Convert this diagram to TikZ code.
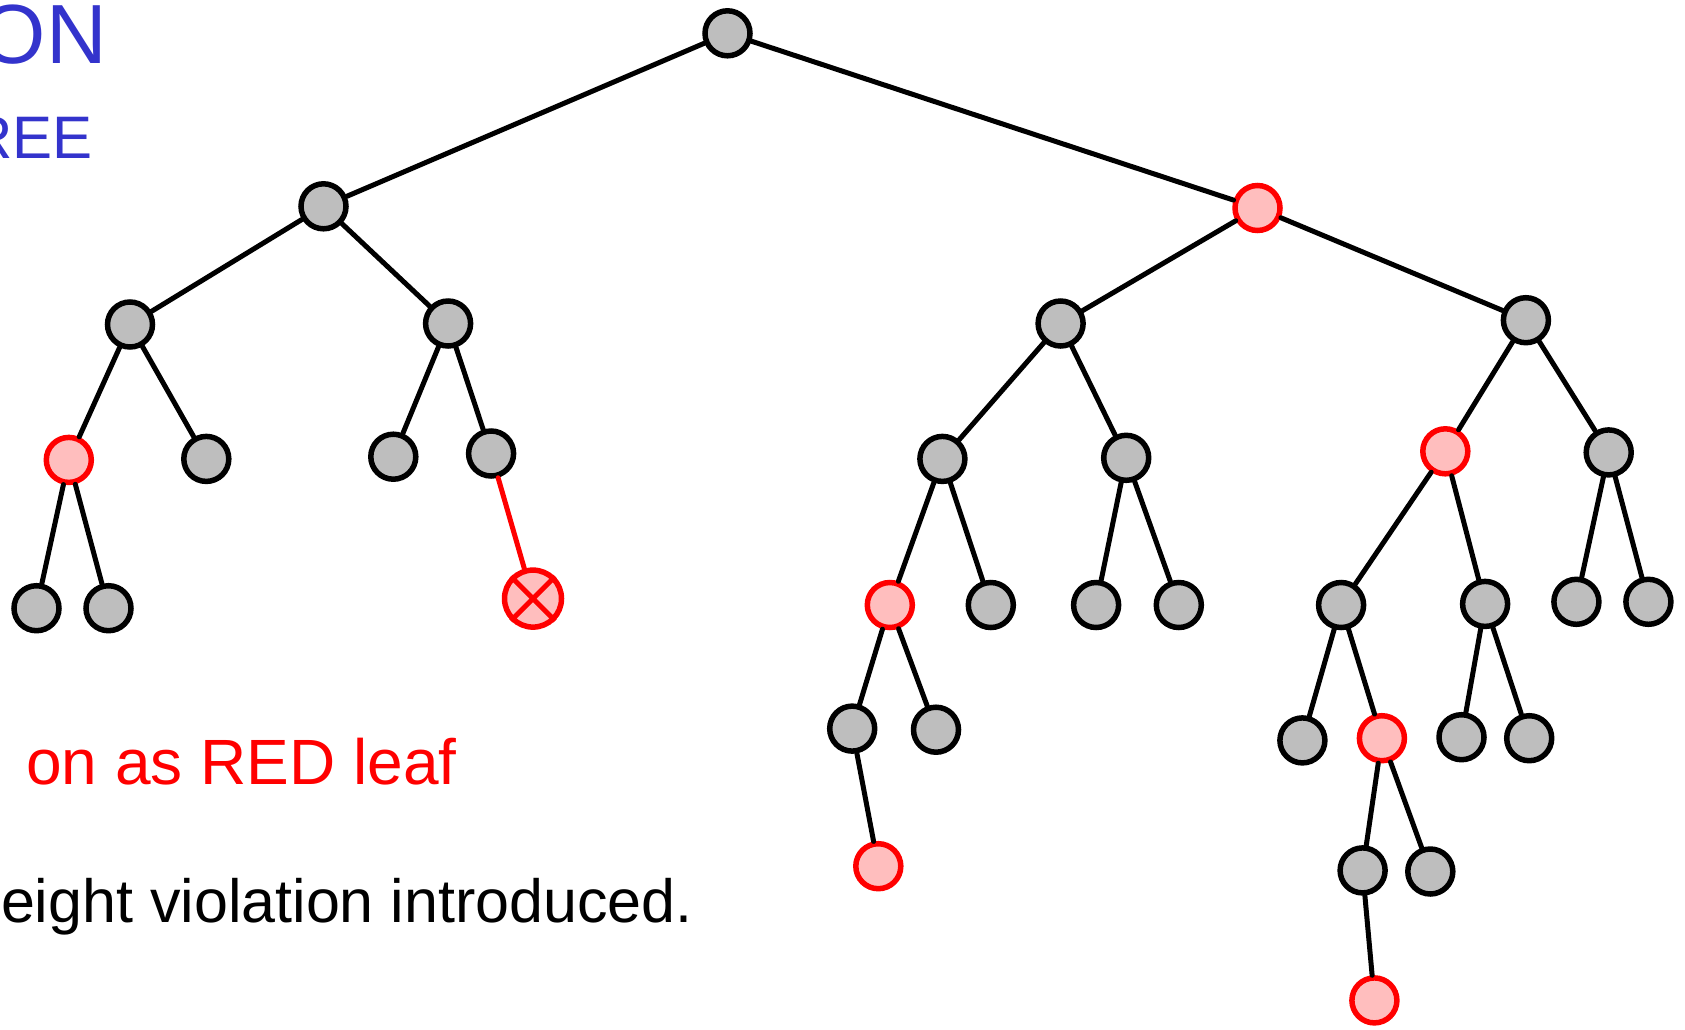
\documentclass[tikz,border=0pt]{standalone}
\usepackage{fontspec}
\setmainfont{Liberation Sans}
\definecolor{nodegray}{RGB}{190,190,190}
\definecolor{nodepink}{RGB}{255,190,190}
\definecolor{titleblue}{RGB}{51,51,204}
\begin{document}
\begin{tikzpicture}[x=1pt,y=-1pt,
  tnode/.style={circle,draw=black,fill=nodegray,line width=5.5pt,minimum size=45pt,inner sep=0pt},
  rnode/.style={tnode,draw=red,fill=nodepink},
  xnode/.style={rnode,minimum size=57pt},
  edge/.style={line width=5pt,black,line cap=round},
  redge/.style={edge,red},
  caption/.style={inner sep=0pt,anchor=base east}]
\useasboundingbox (0,0) rectangle (1685,1029);
\clip (0,0) rectangle (1685,1029);

% headings, partly cut off at the left margin
\node[caption,text=titleblue,font=\fontsize{84}{90}\selectfont] (h1) at (107,63) {ON};
\node[caption,text=titleblue,font=\fontsize{60}{66}\selectfont] (h2) at (93,158) {REE};
\node[caption,text=red,font=\fontsize{64}{70}\selectfont] (t1) at (457,784) {on as RED leaf};
\node[caption,text=black,font=\fontsize{61}{66}\selectfont] (t2) at (693,922) {eight violation introduced.};

% left subtree
\node[tnode] (r)    at (727.5,33.3) {};
\node[tnode] (a)    at (323.5,206.3) {};
\node[tnode] (aa)   at (130.0,324.5) {};
\node[tnode] (ab)   at (448.1,323.5) {};
\node[rnode] (aaa)  at (68.8,459.9) {};
\node[tnode] (aab)  at (206.3,458.9) {};
\node[tnode] (aba)  at (393.3,456.7) {};
\node[tnode] (abb)  at (491.1,453.5) {};
\node[tnode] (aaaa) at (36.5,608.2) {};
\node[tnode] (aaab) at (108.5,608.2) {};
\node[xnode] (new)  at (533.0,598.6) {};

% right subtree
\node[rnode] (b)     at (1257.5,208.0) {};
\node[tnode] (ba)    at (1060.6,323.5) {};
\node[tnode] (bb)    at (1525.9,320.2) {};
\node[tnode] (baa)   at (942.4,458.9) {};
\node[tnode] (bab)   at (1126.2,457.8) {};
\node[rnode] (baaa)  at (889.8,605.0) {};
\node[tnode] (baab)  at (990.8,605.0) {};
\node[tnode] (baba)  at (1096.1,605.0) {};
\node[tnode] (babb)  at (1178.8,605.0) {};
\node[tnode] (baaaa) at (852.2,728.6) {};
\node[tnode] (baaab) at (936.0,729.7) {};
\node[rnode] (baaaaa) at (878.3,866.2) {};
\node[rnode] (bba)   at (1445.3,451.3) {};
\node[tnode] (bbb)   at (1608.7,452.4) {};
\node[tnode] (bbaa)  at (1341.1,605.0) {};
\node[tnode] (bbab)  at (1485.1,603.9) {};
\node[tnode] (bbba)  at (1576.4,601.8) {};
\node[tnode] (bbbb)  at (1648.4,601.8) {};
\node[tnode] (bbaaa) at (1302.4,740.4) {};
\node[rnode] (bbaab) at (1381.9,738.2) {};
\node[tnode] (bbaba) at (1461.5,737.2) {};
\node[tnode] (bbabb) at (1529.2,738.2) {};
\node[tnode] (bbaaba) at (1362.6,870.4) {};
\node[tnode] (bbaabb) at (1430.3,871.5) {};
\node[rnode] (bbaabaa) at (1374.4,1000.4) {};

% edges
\draw[edge] (r) -- (a);  \draw[edge] (r) -- (b);
\draw[edge] (a) -- (aa); \draw[edge] (a) -- (ab);
\draw[edge] (aa) -- (aaa); \draw[edge] (aa) -- (aab);
\draw[edge] (ab) -- (aba); \draw[edge] (ab) -- (abb);
\draw[edge] (aaa) -- (aaaa); \draw[edge] (aaa) -- (aaab);
\draw[redge] (abb) -- (new);
\draw[edge] (b) -- (ba); \draw[edge] (b) -- (bb);
\draw[edge] (ba) -- (baa); \draw[edge] (ba) -- (bab);
\draw[edge] (baa) -- (baaa); \draw[edge] (baa) -- (baab);
\draw[edge] (bab) -- (baba); \draw[edge] (bab) -- (babb);
\draw[edge] (baaa) -- (baaaa); \draw[edge] (baaa) -- (baaab);
\draw[edge] (baaaa) -- (baaaaa);
\draw[edge] (bb) -- (bba); \draw[edge] (bb) -- (bbb);
\draw[edge] (bba) -- (bbaa); \draw[edge] (bba) -- (bbab);
\draw[edge] (bbb) -- (bbba); \draw[edge] (bbb) -- (bbbb);
\draw[edge] (bbaa) -- (bbaaa); \draw[edge] (bbaa) -- (bbaab);
\draw[edge] (bbab) -- (bbaba); \draw[edge] (bbab) -- (bbabb);
\draw[edge] (bbaab) -- (bbaaba); \draw[edge] (bbaab) -- (bbaabb);
\draw[edge] (bbaaba) -- (bbaabaa);

% cross inside the newly inserted leaf
\draw[red,line width=5pt] (new.45) -- (new.225) (new.135) -- (new.-45);
\end{tikzpicture}
\end{document}
